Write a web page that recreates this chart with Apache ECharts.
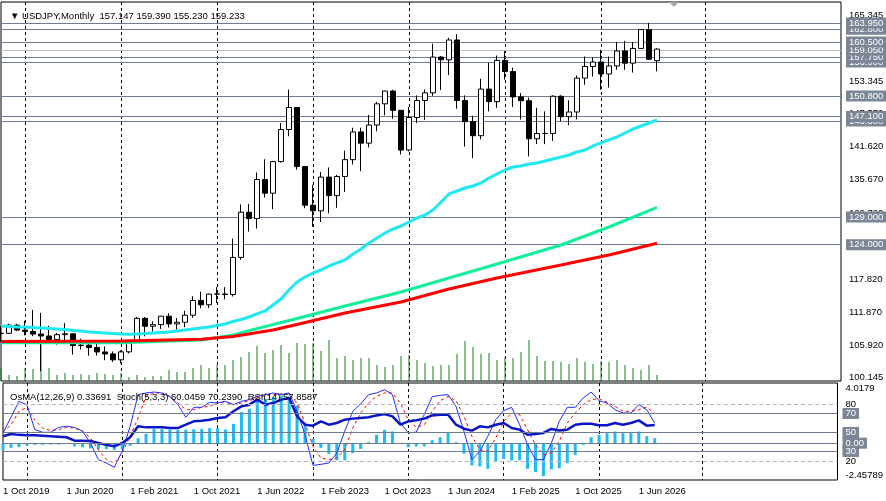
<!DOCTYPE html>
<html>
<head>
<meta charset="UTF-8">
<title>USDJPY,Monthly</title>
<style>
  html, body { margin: 0; padding: 0; background: #fff; }
  #main { width: 886px; height: 501px; }
</style>
<script src="https://cdn.jsdelivr.net/npm/echarts@6/dist/echarts.min.js"></script>
</head>
<body>
<div id="main"></div>
<script>
// monthly bars, Oct 2019 .. Aug 2026
var months = [
  '2019-10','2019-11','2019-12',
  '2020-01','2020-02','2020-03','2020-04','2020-05','2020-06','2020-07','2020-08','2020-09','2020-10','2020-11','2020-12',
  '2021-01','2021-02','2021-03','2021-04','2021-05','2021-06','2021-07','2021-08','2021-09','2021-10','2021-11','2021-12',
  '2022-01','2022-02','2022-03','2022-04','2022-05','2022-06','2022-07','2022-08','2022-09','2022-10','2022-11','2022-12',
  '2023-01','2023-02','2023-03','2023-04','2023-05','2023-06','2023-07','2023-08','2023-09','2023-10','2023-11','2023-12',
  '2024-01','2024-02','2024-03','2024-04','2024-05','2024-06','2024-07','2024-08','2024-09','2024-10','2024-11','2024-12',
  '2025-01','2025-02','2025-03','2025-04','2025-05','2025-06','2025-07','2025-08','2025-09','2025-10','2025-11','2025-12',
  '2026-01','2026-02','2026-03','2026-04','2026-05','2026-06','2026-07','2026-08'
];

var opens = [
  107.98,108.03,109.50,108.61,108.35,107.89,107.54,106.89,107.78,107.93,
  105.83,105.89,105.48,104.66,104.31,103.25,104.68,106.57,110.72,109.30,
  109.58,111.10,109.72,110.02,111.29,113.95,113.16,115.08,115.11,115.00,
  121.70,129.84,128.69,135.73,133.27,138.96,144.74,148.71,138.07,131.11,
  130.09,136.17,132.83,136.28,139.31,144.31,142.29,145.55,149.37,151.68,
  148.20,141.04,146.91,149.98,151.35,157.80,157.31,160.88,149.98,146.17,
  143.63,152.03,149.77,157.20,155.19,150.62,149.94,143.07,144.02,144.04,
  150.74,147.05,147.90,154.00,156.10,156.90,154.75,156.20,158.90,156.70,
  159.35,162.75,157.147
];
var highs = [
  109.29,109.73,109.73,110.29,112.23,111.71,109.38,108.08,109.85,107.94,
  107.05,106.55,106.11,105.68,104.75,104.94,106.69,110.97,110.96,110.20,
  111.11,111.66,110.80,112.08,114.70,115.52,115.19,116.35,116.34,125.09,
  131.25,131.35,137.00,139.39,139.08,145.90,151.94,148.82,138.18,134.78,
  137.10,137.91,136.56,140.93,145.07,145.07,147.38,149.71,151.72,151.91,
  148.21,148.80,150.89,151.97,160.21,157.99,161.27,161.95,150.89,147.21,
  153.89,156.75,158.08,158.88,155.89,151.30,150.49,148.65,148.02,150.91,
  150.92,150.00,154.48,157.90,157.80,159.10,157.90,160.50,160.70,160.50,
  162.85,163.95,159.390
];
var lows = [
  106.48,107.89,108.42,107.65,107.51,101.19,106.36,105.99,106.07,104.19,
  105.10,104.00,104.03,103.18,102.88,102.59,104.41,106.37,107.48,108.34,
  108.81,109.06,108.72,109.12,110.82,112.53,112.56,113.47,114.15,114.65,
  121.28,126.36,126.90,132.50,130.40,138.77,143.53,137.50,130.57,127.22,
  128.08,129.64,130.63,133.50,138.43,137.24,141.51,144.44,147.32,146.67,
  140.25,140.80,145.90,146.48,150.81,151.86,154.55,148.51,141.68,139.58,
  142.97,148.01,148.65,153.72,148.82,146.54,139.89,142.12,142.11,142.68,
  146.21,145.49,146.58,152.80,154.30,151.90,152.30,155.50,155.50,155.00,
  159.30,157.30,155.230
];
var closes = [
  108.03,109.50,108.61,108.35,107.89,107.54,106.89,107.78,107.93,105.83,
  105.89,105.48,104.66,104.31,103.25,104.68,106.57,110.72,109.30,109.58,
  111.10,109.72,110.02,111.29,113.95,113.16,115.08,115.11,115.00,121.70,
  129.84,128.69,135.73,133.27,138.96,144.74,148.71,138.07,131.11,130.09,
  136.17,132.83,136.28,139.31,144.31,142.29,145.55,149.37,151.68,148.20,
  141.04,146.91,149.98,151.35,157.80,157.31,160.88,149.98,146.17,143.63,
  152.03,149.77,157.20,155.19,150.62,149.94,143.07,144.02,144.04,150.74,
  147.05,147.90,154.00,156.10,156.90,154.75,156.20,158.90,156.70,159.35,
  162.75,157.40,159.233
];

// tick volume (relative)
var volumes = [
  13,6,5,13,12,38,13,6,8,6,7,6,8,7,6,8,4,6,4,5,5,11,9,9,13,16,13,16,16,21,
  24,29,35,28,31,36,28,38,37,38,30,41,
  23,25,21,23,23,16,14,16,25,26,21,18,15,16,16,27,40,34,27,28,21,24,23,29,41,
  25,20,20,19,17,23,19,17,20,19,21,16,13,11,16,6
];

// moving averages
var maCyan = [
  109.34,109.25,109.16,109.16,109.07,108.98,108.89,108.80,108.71,108.53,
  108.44,108.26,108.17,108.08,107.99,107.90,107.85,107.90,107.99,108.08,
  108.17,108.26,108.44,108.62,108.80,108.98,109.16,109.43,109.70,110.15,
  110.51,110.96,111.51,112.05,113.13,114.21,115.83,117.27,118.17,118.89,
  119.43,120.15,120.70,121.24,122.32,123.22,124.30,125.20,126.10,126.82,
  127.36,128.08,128.80,129.34,130.24,131.69,133.13,133.67,134.21,134.57,
  135.11,136.01,136.73,137.45,137.99,138.17,138.53,138.71,139.07,139.43,
  139.79,140.15,140.69,141.05,141.78,142.32,142.86,143.40,144.12,144.84,
  145.38,145.92,146.46
];
var maGreen = [[0,106.30],[15,106.30],[25,106.82],[29,107.72],[31,108.50],[37,110.69],
  [43,112.95],[50,115.47],[56,117.99],[62,120.51],[70,123.94],[76,127.18],[82,130.73]];
var maRed = [[0,106.55],[15,106.64],[25,106.95],[29,107.45],[34,108.62],[37,109.61],
  [43,111.69],[50,113.67],[56,116.01],[62,117.99],[70,120.33],[76,122.14],[82,124.24]];

// sub window
var osma = [
  -0.47,-0.31,-0.27,-0.15,-0.11,-0.11,-0.09,-0.09,-0.05,-0.22,
  -0.27,-0.35,-0.40,-0.40,-0.45,-0.40,-0.18,0.33,0.62,0.95,
  0.95,0.91,0.89,0.91,0.93,0.95,1.00,1.00,0.91,1.29,
  2.07,2.29,2.85,2.95,3.07,3.18,3.11,2.51,1.18,0.29,
  -0.31,-0.71,-1.15,-1.15,-0.67,-0.38,0.07,0.55,0.89,0.78,
  0.02,-0.27,-0.22,-0.22,0.20,0.40,0.73,0.07,-0.71,-1.49,
  -1.55,-1.71,-1.22,-1.05,-1.15,-1.15,-1.71,-1.93,-2.20,-1.75,
  -1.67,-1.33,-0.78,-0.11,0.40,0.55,0.67,0.78,0.67,0.67,
  0.78,0.47,0.33691
];
var stochMain = [
  49.5,66,82.8,79.3,53,50.2,50.2,55.4,56.5,55.4,
  51.4,39,21.4,17.9,13.4,30.2,56.5,89.8,91.6,92.6,
  91.6,87.7,79.3,66,76.5,76.5,81.8,81,82.8,79.3,
  82.8,84.6,88.1,89.8,91.6,89.8,91.6,72.3,47.7,15.4,
  16.5,17.9,28.4,51.4,72.3,80,89.8,91.6,95.1,89.8,
  60,49.5,50.5,68.8,87.7,89.1,89.8,77.5,51.2,21.4,
  30.2,46,63.5,73,76.5,58.2,37.2,21.4,21.4,39,
  61.8,76.5,76.5,86.3,92.6,83.5,81,74,70.5,70.5,
  79.3,74,60.0459
];
var stochSignal = [
  50.5,58,72.3,76.5,63,54.7,52,53,55.4,54.7,
  51.4,44.2,31.9,21.4,17.9,28.4,46,65.3,88.1,91.6,
  91.6,88,81,74,74,76.5,77.5,82,82,79.3,
  81,83.5,86.3,89,89.8,90.5,90.5,81,60,35.4,
  23.2,21.4,23.2,31.9,54.7,70.5,81,88.1,91.6,91.6,
  81,63.5,55.4,58.2,72.3,83.5,88,83.5,67,46,
  31.9,30.2,44.2,61.8,70.5,68.8,53,37.2,26.7,28.4,
  40.7,60,70.5,79.3,84.6,85.6,82,77.5,72.3,72.3,
  74,76.5,70.239
];
var rsi = [
  46,48.4,47.5,47,47,46.5,46,45.5,45,41.4,
  41.2,41,39,37,35.4,39,45,56.5,55.4,55.4,
  55.4,54.7,54.7,58.2,61.8,62.4,63.5,65.3,66,72.3,
  77.5,79.3,84.6,79.3,81,84.6,86.3,67,58.2,57.2,
  61.8,58.2,60,63.5,64.6,65.3,66,68,69.5,67,
  58.2,61.8,62.8,64.6,68,68.8,68.8,58.2,54,52,
  56.5,55.4,58.2,60,54.7,53,47.7,48.4,49.5,53.7,
  52,53,58.2,59.3,59.3,57.6,57.6,60,58.2,60,
  62.8,57.2,57.8587
];

// horizontal levels and price scale labels
var priceLevels = [124.0, 129.0, 146.3, 147.1, 150.8, 156.9, 157.75, 159.05, 160.5, 162.8, 163.95];
var priceTicks = [100.145, 105.92, 111.87, 117.82, 123.77, 129.72, 135.67, 141.62, 147.57, 153.345, 159.395, 165.345];
var stochLevels = [80, 70, 50, 30, 20];
var yearLines = [3, 15, 27, 39, 51, 63, 75, 88];

var FONT = '"Liberation Sans", Arial, sans-serif';
var FS = 9.5;
var LEVEL_COLOR = '#6e7c8f';
var BOX_COLOR = '#7a8596';
var MON = ['Jan','Feb','Mar','Apr','May','Jun','Jul','Aug','Sep','Oct','Nov','Dec'];
var SLOTS = 106;

var cats = months.slice();
for (var k = months.length; k < SLOTS; k++) cats.push('f' + k);

var candles = [];
for (var i = 0; i < months.length; i++) {
  candles.push([opens[i], closes[i], lows[i], highs[i]]);
}
var last = months.length - 1;

function dateLabel(s) {
  var p = s.split('-');
  return '1 ' + MON[+p[1] - 1] + ' ' + p[0];
}
function isYearLine(idx) { return yearLines.indexOf(idx) >= 0; }

var boxLabel = function (text) {
  return {
    show: true, position: 'end', distance: 5, formatter: text,
    color: '#fff', backgroundColor: BOX_COLOR, padding: [1, 3, 0, 3],
    fontSize: FS, fontFamily: FONT
  };
};
var plainLabel = function (text) {
  return {
    show: true, position: 'end', distance: 5, formatter: text,
    color: '#000', padding: [1, 3, 0, 3], fontSize: FS, fontFamily: FONT
  };
};

var OS_MIN = -2.45789, OS_MAX = 4.0179;

var myChart = echarts.init(document.getElementById('main'));
var option = {
  animation: false,
  backgroundColor: '#fff',
  textStyle: { fontFamily: FONT },
  title: [
    {
      text: '\u25BC USDJPY,Monthly  ' + [opens[last], highs[last], lows[last], closes[last]].map(function (v) { return v.toFixed(3); }).join(' '),
      left: 5, top: 6,
      textStyle: { fontSize: FS, fontWeight: 'normal', color: '#000', fontFamily: FONT }
    },
    {
      text: 'OsMA(12,26,9) ' + osma[last].toFixed(5) + '  Stoch(5,3,3) ' + stochMain[last].toFixed(4) + ' ' +
        stochSignal[last].toFixed(4) + '  RSI(14) ' + rsi[last].toFixed(4),
      left: 5, top: 387,
      textStyle: { fontSize: FS, fontWeight: 'normal', color: '#000', fontFamily: FONT }
    }
  ],
  grid: [
    { left: 1, top: 2, width: 840, height: 379, show: true, borderColor: '#000', borderWidth: 1, backgroundColor: '#fff' },
    { left: 1, top: 383, width: 840, height: 97, show: true, borderColor: '#000', borderWidth: 1, backgroundColor: '#fff' }
  ],
  xAxis: [
    {
      gridIndex: 0, type: 'category', data: cats, boundaryGap: false,
      axisLine: { show: false }, axisTick: { show: false }, axisLabel: { show: false },
      splitLine: { show: true, interval: function (idx) { return isYearLine(idx); }, lineStyle: { color: '#000', type: [3, 3], width: 1 } }
    },
    {
      gridIndex: 1, type: 'category', data: cats, boundaryGap: false,
      axisLine: { show: false }, axisTick: { show: false },
      axisLabel: {
        show: true, margin: 6, align: 'left', fontSize: FS, color: '#000', fontFamily: FONT,
        interval: function (idx) { return idx % 8 === 0 && idx < months.length; },
        formatter: function (v, idx) { return idx < months.length ? dateLabel(v) : ''; }
      },
      splitLine: { show: true, interval: function (idx) { return isYearLine(idx); }, lineStyle: { color: '#000', type: [3, 3], width: 1 } }
    }
  ],
  yAxis: [
    { gridIndex: 0, type: 'value', min: 99.43, max: 167.72, position: 'right',
      axisLine: { show: false }, axisTick: { show: false }, axisLabel: { show: false }, splitLine: { show: false } },
    { gridIndex: 0, type: 'value', min: 0, max: 379, show: false, splitLine: { show: false } },
    { gridIndex: 1, type: 'value', min: OS_MIN, max: OS_MAX, interval: OS_MAX - OS_MIN, position: 'right',
      axisLine: { show: false }, axisTick: { show: false }, splitLine: { show: false },
      axisLabel: {
        show: true, margin: 8, fontSize: FS, color: '#000', fontFamily: FONT,
        verticalAlignMinLabel: 'bottom', verticalAlignMaxLabel: 'top',
        formatter: function (v) {
          if (Math.abs(v - OS_MIN) < 1e-6) return '-2.45789';
          if (Math.abs(v - OS_MAX) < 1e-6) return '4.0179';
          return '';
        }
      } },
    { gridIndex: 1, type: 'value', min: 0, max: 102.1, show: false, splitLine: { show: false } }
  ],
  series: [
    // price scale labels
    {
      type: 'line', xAxisIndex: 0, yAxisIndex: 0, data: [], silent: true,
      markLine: {
        z: 1, silent: true, symbol: 'none',
        lineStyle: { color: 'rgba(0,0,0,0)', width: 0 },
        data: priceTicks.map(function (v) {
          return { yAxis: v, lineStyle: { color: 'rgba(0,0,0,0)', width: 0 }, label: plainLabel(v.toFixed(3)) };
        })
      }
    },
    // horizontal levels
    {
      type: 'line', xAxisIndex: 0, yAxisIndex: 0, data: [], silent: true,
      markLine: {
        z: 1, silent: true, symbol: 'none',
        lineStyle: { color: LEVEL_COLOR, type: 'solid', width: 1 },
        data: priceLevels.map(function (v) {
          return {
            yAxis: v,
            lineStyle: { color: v === 159.05 ? '#b9c0ca' : LEVEL_COLOR, type: 'solid', width: 1 },
            label: boxLabel(v.toFixed(3))
          };
        })
      }
    },
    {
      name: 'USDJPY', type: 'candlestick', xAxisIndex: 0, yAxisIndex: 0, data: candles, barWidth: 5,
      itemStyle: { color: '#fff', color0: '#000', borderColor: '#000', borderColor0: '#000', borderWidth: 1 }
    },
    {
      name: 'Volume', type: 'bar', xAxisIndex: 0, yAxisIndex: 1, data: volumes, barWidth: 1,
      itemStyle: { color: '#12801a' }
    },
    {
      name: 'MA green', type: 'line', xAxisIndex: 0, yAxisIndex: 0, data: maGreen, showSymbol: false, symbol: 'none',
      lineStyle: { color: '#10f09a', width: 3 }
    },
    {
      name: 'MA red', type: 'line', xAxisIndex: 0, yAxisIndex: 0, data: maRed, showSymbol: false, symbol: 'none',
      lineStyle: { color: '#ff0000', width: 3 }
    },
    {
      name: 'MA cyan', type: 'line', xAxisIndex: 0, yAxisIndex: 0, data: maCyan, showSymbol: false, symbol: 'none',
      lineStyle: { color: '#1ee8f0', width: 3 }
    },
    // sub window
    {
      name: 'OsMA', type: 'bar', xAxisIndex: 1, yAxisIndex: 2, data: osma, barWidth: 3,
      itemStyle: { color: '#1ebcf5' },
      markLine: {
        silent: true, symbol: 'none',
        lineStyle: { color: LEVEL_COLOR, type: 'solid', width: 1 },
        data: [{ yAxis: 0, label: boxLabel('0.00') }]
      }
    },
    {
      type: 'line', xAxisIndex: 1, yAxisIndex: 3, data: [], silent: true,
      markLine: {
        silent: true, symbol: 'none',
        data: stochLevels.map(function (v) {
          var dashed = (v === 80 || v === 20);
          return {
            yAxis: v,
            lineStyle: dashed ? { color: '#b4b4b4', type: [4, 3], width: 1 } : { color: LEVEL_COLOR, type: 'solid', width: 1 },
            label: dashed ? plainLabel(String(v)) : boxLabel(String(v))
          };
        })
      }
    },
    {
      name: 'Signal', type: 'line', xAxisIndex: 1, yAxisIndex: 3, data: stochSignal, showSymbol: false, symbol: 'none',
      lineStyle: { color: '#ff0000', width: 1, type: [3, 3] }
    },
    {
      name: 'Stoch', type: 'line', xAxisIndex: 1, yAxisIndex: 3, data: stochMain, showSymbol: false, symbol: 'none',
      lineStyle: { color: '#1f2cff', width: 1 }
    },
    {
      name: 'RSI', type: 'line', xAxisIndex: 1, yAxisIndex: 3, data: rsi, showSymbol: false, symbol: 'none',
      lineStyle: { color: '#0a14c8', width: 2.5 }
    }
  ],
  graphic: [
    { type: 'polygon', shape: { points: [[669, 2], [679, 2], [674, 7]] }, style: { fill: '#a8a8a8' } }
  ]
};
myChart.setOption(option);
</script>
</body>
</html>
